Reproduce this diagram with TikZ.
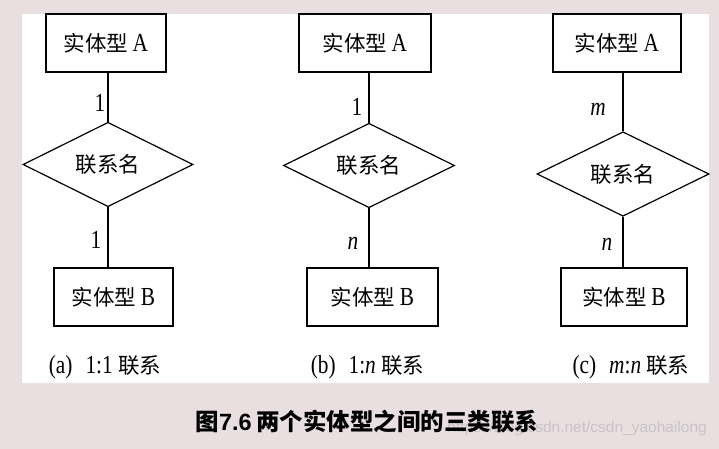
\documentclass[tikz,border=0pt]{standalone}
\usepackage{fontspec}
\setmainfont{Liberation Serif}[FakeStretch=0.82]
\newfontfamily\cjk{Noto Sans CJK SC}
\newfontfamily\capsans{Liberation Sans}
\newcommand\zhtext[1]{{\fontsize{21.5}{24}\cjk #1}}
\usetikzlibrary{shapes.geometric}
\definecolor{bgpink}{HTML}{E9DFE1}
\definecolor{wmgray}{HTML}{C9C3C5}
\begin{document}
\begin{tikzpicture}[x=1pt,y=-1pt,
  ent/.style={draw, line width=1.2pt, minimum height=58pt, inner sep=0pt,
    font=\fontsize{26}{28}\selectfont},
  rel/.style={diamond, draw, line width=1.2pt, inner sep=0pt,
    font=\fontsize{26}{28}\selectfont},
  card/.style={inner sep=0pt, font=\fontsize{26}{28}\selectfont},
  conn/.style={line width=1.2pt}]
\fill[bgpink] (0,0) rectangle (719,449);
\useasboundingbox (0,0) rectangle (719,449);
\fill[white] (22,14) rectangle (709,383);

% (a) 1:1
\node[ent, minimum width=120pt] (a1) at (106,43) {\zhtext{实体型}\,A};
\node[rel, minimum width=170pt, minimum height=73pt] (r1) at (108,164.5) {\zhtext{联系名}};
\node[ent, minimum width=119pt] (b1) at (113.5,297) {\zhtext{实体型}\,B};
\draw[conn] (r1.north |- a1.south) -- (r1.north);
\draw[conn] (r1.south) -- (r1.south |- b1.north);
\node[card] (la1) at (100,103) {1};
\node[card] (lb1) at (96,240) {1};
\node[card] (ca) at (105,367) {(a)\enspace 1:1 \zhtext{联系}};

% (b) 1:n
\node[ent, minimum width=132pt] (a2) at (365,43) {\zhtext{实体型}\,A};
\node[rel, minimum width=171pt, minimum height=73pt] (r2) at (369,165.5) {\zhtext{联系名}};
\node[ent, minimum width=131pt] (b2) at (372.5,297) {\zhtext{实体型}\,B};
\draw[conn] (r2.north |- a2.south) -- (r2.north);
\draw[conn] (r2.south) -- (r2.south |- b2.north);
\node[card] (la2) at (357,107) {1};
\node[card] (lb2) at (353,243) {\textit{n}};
\node[card] (cb) at (367.5,367) {(b)\enspace 1:\textit{n} \zhtext{联系}};

% (c) m:n
\node[ent, minimum width=128pt] (a3) at (617,43) {\zhtext{实体型}\,A};
\node[rel, minimum width=172pt, minimum height=78pt] (r3) at (623,174) {\zhtext{联系名}};
\node[ent, minimum width=126pt] (b3) at (624,297) {\zhtext{实体型}\,B};
\draw[conn] (r3.north |- a3.south) -- (r3.north);
\draw[conn] (r3.south) -- (r3.south |- b3.north);
\node[card] (la3) at (598,109) {\textit{m}};
\node[card] (lb3) at (607,244) {\textit{n}};
\node[card] (cc) at (631,367) {(c)\enspace \textit{m}:\textit{n} \zhtext{联系}};

% caption and watermark
\node[anchor=east, inner sep=0pt, text=wmgray, font=\capsans\fontsize{15.5}{18}\selectfont]
  (wm) at (707,428) {https://blog.csdn.net/csdn\_yaohailong};
\node[inner sep=0pt, font=\fontsize{23.5}{26}\selectfont\bfseries] (cap) at (367,422)
  {{\cjk 图}{\capsans 7.6} {\cjk 两个实体型之间的三类联系}};
\end{tikzpicture}
\end{document}
